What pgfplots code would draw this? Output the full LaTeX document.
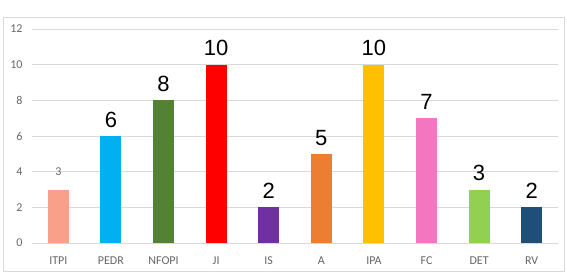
\documentclass[border=0pt]{standalone}
\usepackage{fontspec}
\setmainfont{Carlito}
\newfontfamily\arialf{Liberation Sans}
\usepackage{pgfplots}
\pgfplotsset{compat=1.18}
\definecolor{c1}{HTML}{F9A08A}
\definecolor{c2}{HTML}{00B0F0}
\definecolor{c3}{HTML}{548235}
\definecolor{c4}{HTML}{FF0000}
\definecolor{c5}{HTML}{7030A0}
\definecolor{c6}{HTML}{ED7D31}
\definecolor{c7}{HTML}{FFC000}
\definecolor{c8}{HTML}{F476C0}
\definecolor{c9}{HTML}{92D050}
\definecolor{c10}{HTML}{1F4E79}
\definecolor{tickgray}{HTML}{666666}
\definecolor{gridgray}{HTML}{D9D9D9}
\begin{document}
\begin{tikzpicture}[x=1pt,y=1pt]
\useasboundingbox (-32,-34) rectangle (535,243);
\draw[gridgray, line width=0.8pt] (-29,-28) rectangle (532,226);
\begin{axis}[
  at={(0,0)}, anchor=south west,
  scale only axis, width=526pt, height=214pt,
  xmin=-0.5, xmax=9.5, ymin=0, ymax=12,
  ytick={0,2,...,12},
  xtick={0,...,9},
  xticklabels={ITPI,PEDR,NFOPI,JI,IS,A,IPA,FC,DET,RV},
  axis x line*=bottom, axis y line*=left,
  x axis line style={gridgray, line width=0.8pt, -},
  y axis line style={draw=none},
  ymajorgrids, grid style={gridgray, line width=0.8pt},
  major tick length=0pt,
  tick label style={font=\fontsize{12}{14}\selectfont, text=tickgray},
  xticklabel style={yshift=-10pt},
  yticklabel style={xshift=-6pt},
  /pgf/number format/assume math mode=true,
  ybar, bar width=21pt, bar shift=0pt,
  nodes near coords,
  every node near coord/.style={font=\arialf\fontsize{22}{24}\selectfont, text=black, yshift=5pt},
  clip=false,
]
\addplot[fill=c1, draw=none, nodes near coords style={font=\fontsize{12}{14}\selectfont, text=tickgray, yshift=5pt}] coordinates {(0,3)};
\addplot[fill=c2, draw=none] coordinates {(1,6)};
\addplot[fill=c3, draw=none] coordinates {(2,8)};
\addplot[fill=c4, draw=none] coordinates {(3,10)};
\addplot[fill=c5, draw=none] coordinates {(4,2)};
\addplot[fill=c6, draw=none] coordinates {(5,5)};
\addplot[fill=c7, draw=none] coordinates {(6,10)};
\addplot[fill=c8, draw=none] coordinates {(7,7)};
\addplot[fill=c9, draw=none] coordinates {(8,3)};
\addplot[fill=c10, draw=none] coordinates {(9,2)};
\end{axis}
\end{tikzpicture}
\end{document}
